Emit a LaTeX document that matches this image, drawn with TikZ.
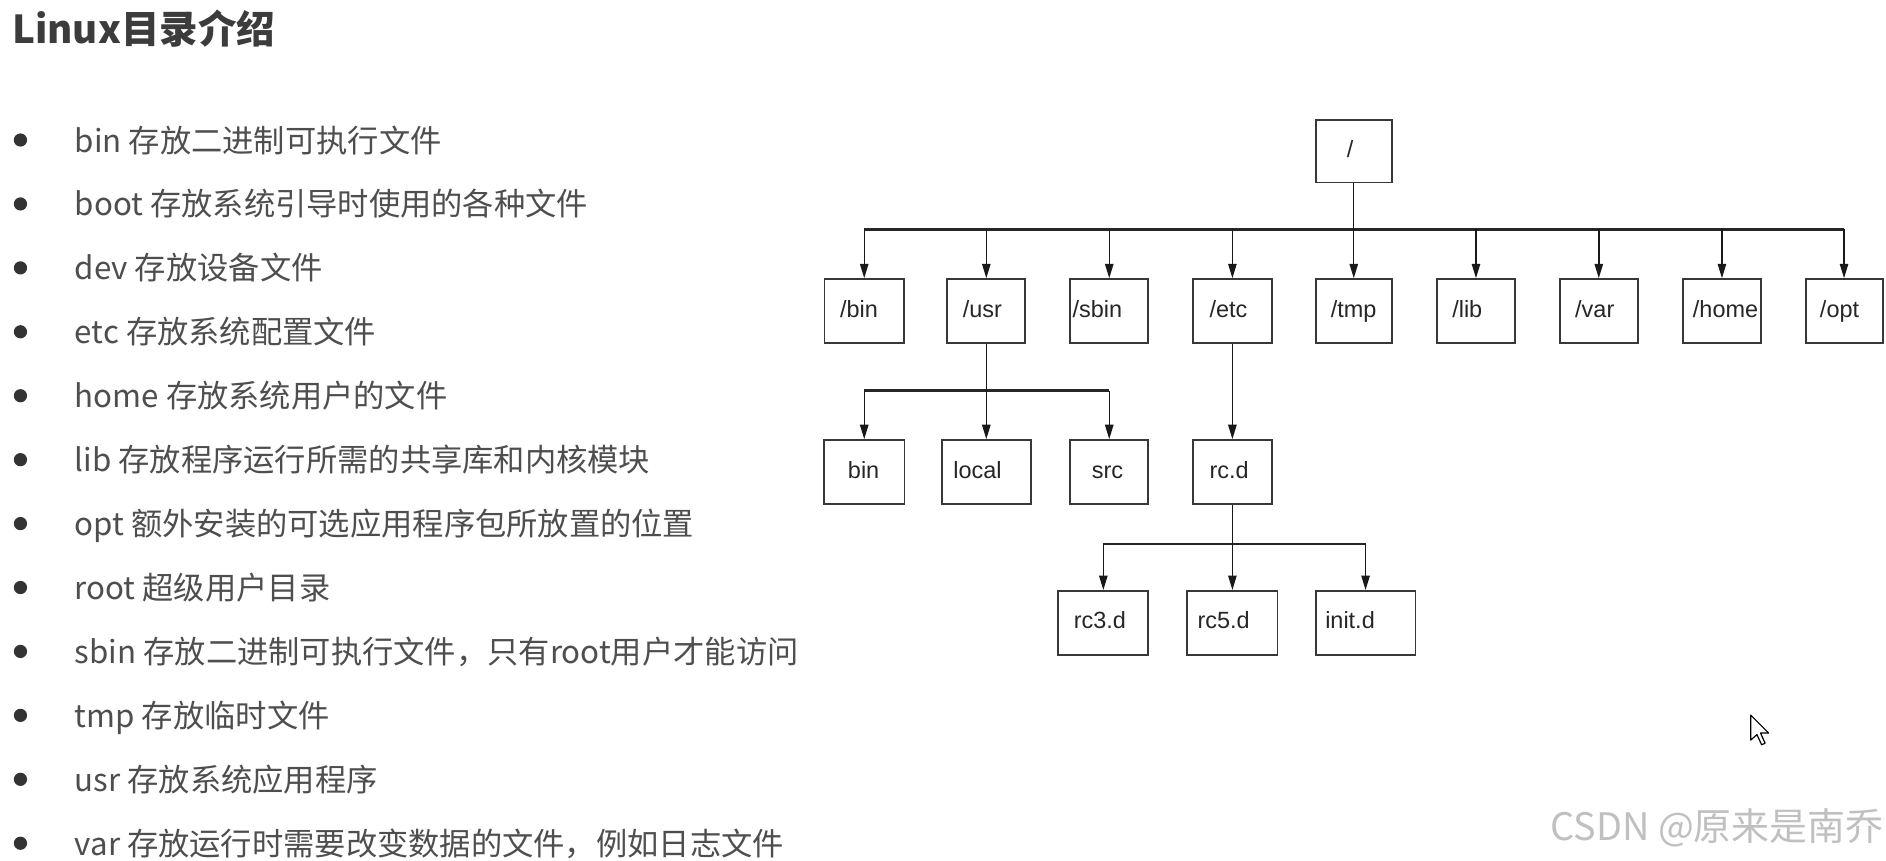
\documentclass[tikz,border=0pt]{standalone}
\usepackage{fontspec}
\usetikzlibrary{arrows.meta}
\setmainfont{Liberation Sans}
\newfontfamily\cjk{Noto Sans CJK SC}
\definecolor{titlec}{HTML}{3C3C3C}
\definecolor{textc}{HTML}{4E4E4E}
\definecolor{dotc}{HTML}{333333}
\definecolor{boxc}{HTML}{383838}
\definecolor{wmc}{HTML}{C0C0C0}
\newcommand{\dirbox}[6]{\node[dbox=#4pt] (#1) at (#2,#3) {\hspace*{#5pt}\vphantom{/bdp}#6};}
\begin{document}
\begin{tikzpicture}[x=1pt,y=-1pt,
 dbox/.style={draw=boxc, line width=1.6pt, minimum height=53pt, inner xsep=0pt, inner ysep=0pt, text width=#1, align=left, font=\fontsize{19.5}{22}\selectfont, text=black!85},
 conn/.style={line width=1.2pt, draw=black!90},
 arr/.style={conn, -{Triangle[length=12pt,width=7pt]}},
 bus/.style={line width=2.4pt, draw=black!85},
 item/.style={anchor=base west, inner sep=0pt, text=textc, font=\cjk\fontsize{26}{30}\selectfont},
 dot/.style={circle, fill=dotc, inner sep=0pt, minimum size=11pt},
]
\useasboundingbox (0,0) rectangle (1568,715);
\fill[white] (0,0) rectangle (1568,715);

\node[anchor=base west, inner sep=0pt, text=titlec, font=\cjk\bfseries\fontsize{32}{36}\selectfont] (title) at (10,36) {Linux目录介绍};

\foreach \i/\t in {
 0/{bin 存放二进制可执行文件},
 1/{boot 存放系统引导时使用的各种文件},
 2/{dev 存放设备文件},
 3/{etc 存放系统配置文件},
 4/{home 存放系统用户的文件},
 5/{lib 存放程序运行所需的共享库和内核模块},
 6/{opt 额外安装的可选应用程序包所放置的位置},
 7/{root 超级用户目录},
 8/{sbin 存放二进制可执行文件，只有root用户才能访问},
 9/{tmp 存放临时文件},
 10/{usr 存放系统应用程序},
 11/{var 存放运行时需要改变数据的文件，例如日志文件}}{
  \node[dot] (dot\i) at (17,{116.4+53.15*\i}) {};
  \node[item] (it\i) at (62,{126.4+53.15*\i}) {\t};
}

% tree
\node[dbox=63.5pt, minimum height=52pt] (root) at (1125.5,125.7) {\hspace*{26pt}\vphantom{/bdp}/};
\dirbox{bin1}{718.5}{258.6}{66}{13}{/bin}
\dirbox{usr}{820}{258.6}{65}{13}{/usr}
\dirbox{sbin}{922.2}{258.6}{65}{2}{/sbin}
\dirbox{etc}{1024.6}{258.6}{66}{14}{/etc}
\dirbox{tmp}{1125.5}{258.6}{63.5}{12.7}{/tmp}
\dirbox{lib}{1227.1}{258.6}{64.6}{12.6}{/lib}
\dirbox{var}{1329.2}{258.6}{64.6}{12.7}{/var}
\dirbox{home}{1431.6}{258.6}{65.2}{8.5}{/home}
\dirbox{opt}{1533.1}{258.6}{64}{12}{/opt}

\dirbox{bin2}{718.5}{392.4}{67}{20}{bin}
\dirbox{local}{820}{392.4}{74}{9.6}{local}
\dirbox{src}{922.2}{392.4}{65}{18}{src}
\dirbox{rcd}{1024.6}{392.4}{66}{14}{rc.d}

\dirbox{rc3}{917.3}{517.8}{75}{13}{rc3.d}
\dirbox{rc5}{1024.6}{517.8}{75}{8.5}{rc5.d}
\dirbox{init}{1135.3}{517.8}{83}{8}{init.d}

\coordinate (b1) at (1125.5,190.7);
\draw[bus] (b1 -| bin1) -- (b1 -| opt);
\draw[arr] (root.south) -- (tmp.north);
\foreach \n in {bin1,usr,sbin,etc,lib,var,home,opt}
  \draw[arr] (b1 -| \n) -- (\n.north);

\coordinate (b2) at (820,324.8);
\draw[bus] (b2 -| bin2) -- (b2 -| src);
\draw[arr] (usr.south) -- (local.north);
\foreach \n in {bin2,src}
  \draw[arr] (b2 -| \n) -- (\n.north);
\draw[arr] (etc.south) -- (rcd.north);

\coordinate (b3) at (1024.6,452.3);
\draw[bus] (b3 -| rc3) -- (b3 -| init);
\draw[arr] (rcd.south) -- (rc5.north);
\foreach \n in {rc3,init}
  \draw[arr] (b3 -| \n) -- (\n.north);

% watermark
\node[anchor=base east, inner sep=0pt, text=wmc, font=\cjk\fontsize{31.5}{35}\selectfont] (wm) at (1566,699) {CSDN @原来是南乔};

% mouse cursor
\draw[fill=white, line width=1pt, line join=round, shift={(1455.5,594.5)}, scale=1.3]
  (0,0) -- (0,16) -- (4,12.5) -- (7,19) -- (9.2,18) -- (6.3,11.5) -- (11.5,11.5) -- cycle;
\end{tikzpicture}
\end{document}
